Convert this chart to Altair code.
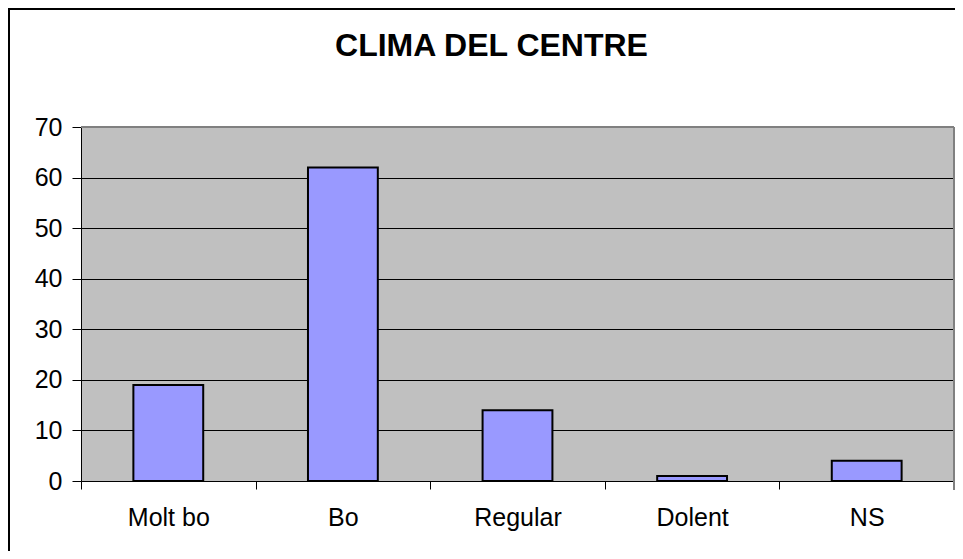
import altair as alt
import pandas as pd

categories = ["Molt bo", "Bo", "Regular", "Dolent", "NS"]
values = [19, 62, 14, 1, 4]
y_ticks = [0, 10, 20, 30, 40, 50, 60, 70]
title_text = "CLIMA DEL CENTRE"

df = pd.DataFrame({"cat": categories, "val": values})
frame = pd.DataFrame({"k": [0]})

W, H = 873, 354
FONT = "Liberation Sans"

bars = alt.Chart(df).mark_bar(
    width=alt.RelativeBandSize(0.4), color="#9999FF", stroke="#000000", strokeWidth=2
).encode(
    x=alt.X("cat:N", sort=None, title=None,
            scale=alt.Scale(paddingInner=0, paddingOuter=0),
            axis=alt.Axis(labelAngle=0, labelFontSize=25, labelFont=FONT, labelColor="#000000",
                          labelPadding=16, tickBand="extent", tickSize=8, tickColor="#000000",
                          domainColor="#000000", grid=False)),
    y=alt.Y("val:Q", title=None,
            scale=alt.Scale(domain=[0, 70], nice=False),
            axis=alt.Axis(values=y_ticks, labelFontSize=25, labelFont=FONT, labelColor="#000000",
                          labelPadding=10, tickSize=9, tickColor="#000000", domainColor="#000000",
                          grid=True, gridColor="#000000", gridWidth=1, gridOpacity=1)),
)

top_border = alt.Chart(frame).mark_rule(color="#808080", strokeWidth=2).encode(
    x=alt.value(0), x2=alt.value(W), y=alt.value(0))
right_border = alt.Chart(frame).mark_rule(color="#808080", strokeWidth=2).encode(
    x=alt.value(W), y=alt.value(0), y2=alt.value(H + 9))
outer_left = alt.Chart(frame).mark_rule(color="#000000", strokeWidth=2).encode(
    x=alt.value(-72), y=alt.value(-118), y2=alt.value(H + 80))
outer_top = alt.Chart(frame).mark_rule(color="#000000", strokeWidth=2).encode(
    x=alt.value(-73), x2=alt.value(W + 10), y=alt.value(-118))

chart = alt.layer(bars, top_border, right_border, outer_left, outer_top).properties(
    width=W, height=H,
    background="#FFFFFF",
    title=alt.TitleParams(title_text, anchor="middle", dx=-26, dy=80, offset=0, baseline="alphabetic",
                          fontSize=32, font=FONT, fontWeight="bold", color="#000000"),
    autosize=alt.AutoSizeParams(type="none"),
    padding={"left": 73, "top": 119, "right": 1, "bottom": 70},
).configure_view(
    fill="#C0C0C0", strokeWidth=0
)

chart.save("out.html", embed_options={"renderer": "svg", "actions": False})
